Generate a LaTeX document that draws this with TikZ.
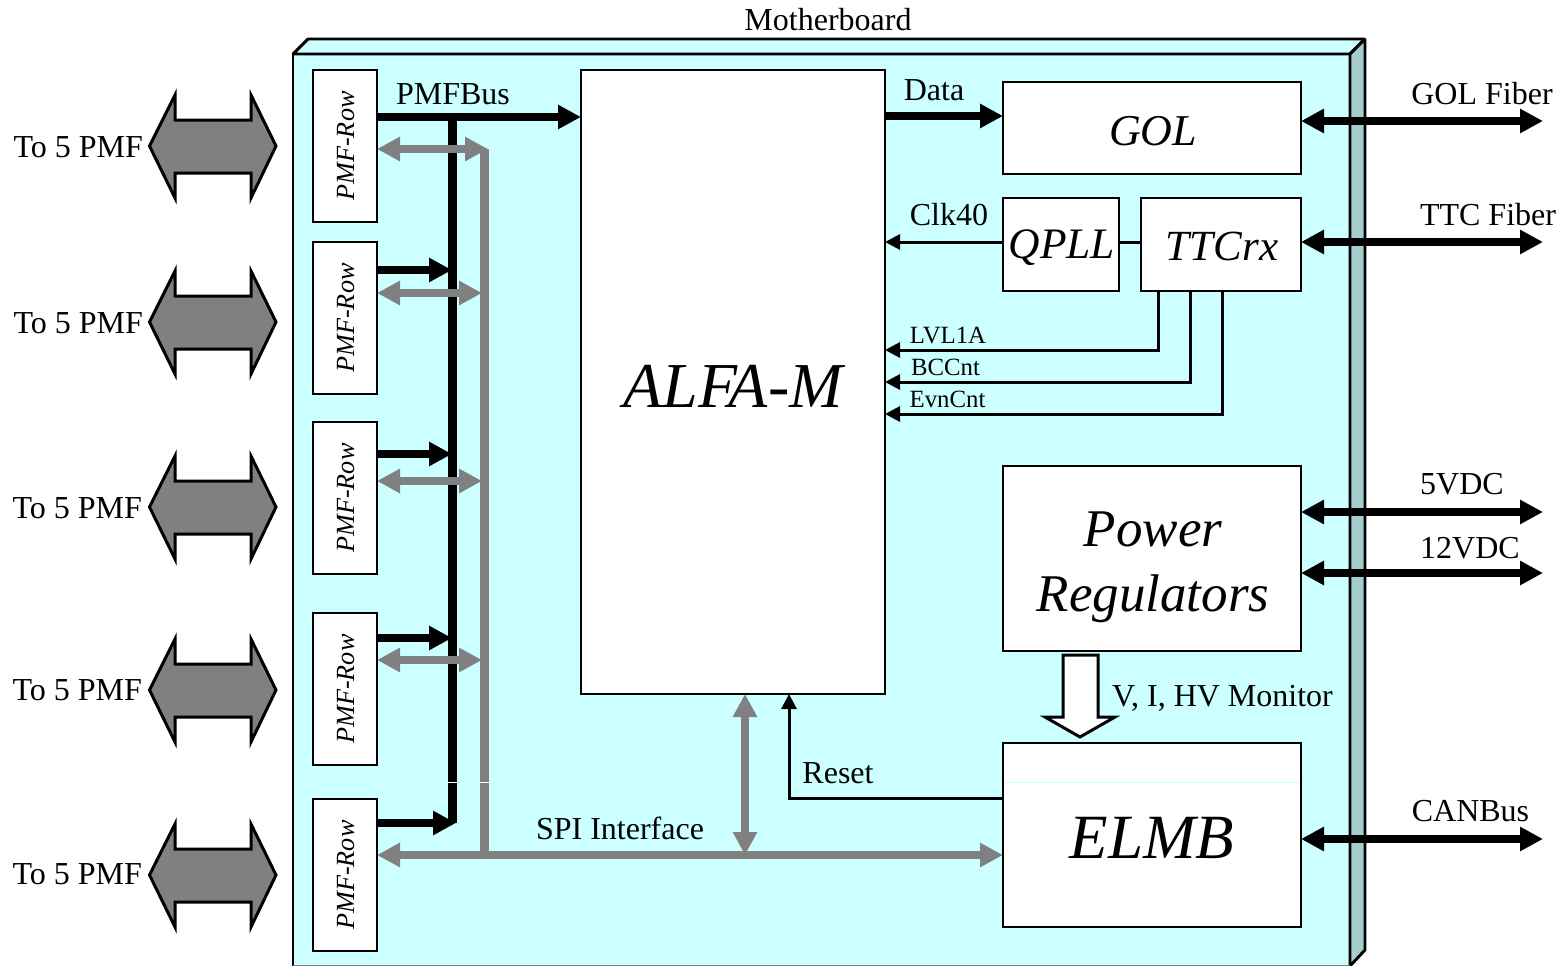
\documentclass[tikz,border=0pt]{standalone}
\usepackage{fontspec}
\usepackage{graphicx}
\setmainfont{Liberation Serif}
\usetikzlibrary{arrows.meta}
\definecolor{boardfill}{HTML}{CCFFFF}
\definecolor{sidefill}{HTML}{A5CDCD}
\definecolor{busgray}{HTML}{808080}
\newcommand{\fsz}[2]{\fontsize{#1}{#2}\selectfont}
\newcommand{\bigdbl}[4]{%
  \node[biglab] (#1t) at (#4,#3) {To 5 PMF};
  \draw[bigarrow] (149.5,#2) -- (175,#2-51) -- (175,#2-26) -- (251,#2-26) -- (251,#2-51) -- (276,#2)
    -- (251,#2+52) -- (251,#2+27) -- (175,#2+27) -- (175,#2+52) -- cycle;
}
\newcommand{\rowtxt}{\hspace*{1.5pt}\raisebox{-1pt}{\rotatebox{90}{\fsz{26.2}{30}\itshape PMF-Row}}}
\tikzset{
  x=1pt,y=-1pt,
  frame/.style={draw=black,line width=2.9pt,line join=bevel},
  boxn/.style={draw=black,fill=white,line width=2.9pt,inner sep=0pt,outer sep=0pt,align=center},
  rowbox/.style={boxn,minimum width=64pt,minimum height=152pt},
  lab/.style={font=\fsz{32}{36},anchor=base,inner sep=0pt,outer sep=0pt},
  biglab/.style={font=\fsz{32}{36},anchor=base east,inner sep=0pt,outer sep=0pt},
  smalllab/.style={font=\fsz{24.8}{28},anchor=base,inner sep=0pt,outer sep=0pt},
  bigarrow/.style={draw=black,fill=busgray,line width=3pt,line join=miter,miter limit=10},
  hollow/.style={draw=black,fill=white,line width=3pt,line join=miter,miter limit=10},
  blackbus/.style={draw=black,line width=8pt,-{Triangle[length=23pt,width=23pt]}},
  blackdbl/.style={draw=black,line width=8pt,{Triangle[length=23pt,width=23pt]}-{Triangle[length=23pt,width=23pt]}},
  graydbl/.style={draw=busgray,line width=8pt,{Triangle[length=23pt,width=23pt,fill=busgray]}-{Triangle[length=23pt,width=23pt,fill=busgray]}},
  railb/.style={draw=black,line width=9pt},
  railg/.style={draw=busgray,line width=9pt},
  sig/.style={draw=black,line width=3pt,-{Triangle[length=15pt,width=15pt]}},
  wirep/.style={draw=black,line width=3pt},
}
\begin{document}
\begin{tikzpicture}
\useasboundingbox (0,0) rectangle (1561,966);
% board
\fill[boardfill] (293,54) rectangle (1350,966);
\draw[frame,fill=boardfill] (293,54) -- (308,39) -- (1365,39) -- (1350,54) -- cycle;
\draw[frame,fill=sidefill] (1350,54) -- (1365,39) -- (1365,950) -- (1350,966) -- cycle;
\draw[frame] (293,966) -- (293,54) -- (1350,54);
\draw[draw=busgray,line width=1.5pt] (293,965.5) -- (1350,965.5);
\node[lab] (mb) at (828,31) {Motherboard};
% external big arrows
\bigdbl{a}{146}{157}{143}
\bigdbl{b}{322}{333}{143}
\bigdbl{c}{507}{518}{142}
\bigdbl{d}{690}{700}{142}
\bigdbl{e}{875}{884}{142}
% boxes
\node[rowbox] (r1) at (345,146) {\rowtxt};
\node[rowbox] (r2) at (345,318) {\rowtxt};
\node[rowbox] (r3) at (345,498) {\rowtxt};
\node[rowbox] (r4) at (345,689) {\rowtxt};
\node[rowbox] (r5) at (345,875) {\rowtxt};
\node[boxn,minimum width=304pt,minimum height=624pt] (alfa) at (733,382) {};
\node[font=\fsz{64}{70}\itshape,inner sep=0pt] (alfat) at (733,386) {ALFA-M};
\node[boxn,minimum width=298pt,minimum height=92pt] (gol) at (1152,128) {};
\node[font=\fsz{44}{48}\itshape,inner sep=0pt] (golt) at (1153,131) {GOL};
\node[boxn,minimum width=116pt,minimum height=93pt] (qpll) at (1061,244.5) {};
\node[font=\fsz{43.5}{48}\itshape,inner sep=0pt] (qpllt) at (1062,248) {QPLL};
\node[boxn,minimum width=160pt,minimum height=93pt] (ttc) at (1221,244.5) {};
\node[font=\fsz{43}{48}\itshape,inner sep=0pt] (ttct) at (1222,246) {TTCrx};
\node[boxn,minimum width=298pt,minimum height=185pt] (pow) at (1152,558.5) {};
\node[font=\fsz{53}{65}\itshape,align=center,inner sep=0pt] (powt) at (1153,567) {Power\\Regulators};
\node[boxn,minimum width=298pt,minimum height=184pt] (elmb) at (1152,835) {};
\node[font=\fsz{63}{70}\itshape,inner sep=0pt] (elmbt) at (1152,838) {ELMB};
% bus coordinates
\coordinate (bk) at (452,0);
\coordinate (gr) at (484,0);
\coordinate (bktip) at (452,0);
\coordinate (grtip) at (482,0);
% black rails and arrows
\draw[railb] (bk |- 0,117) -- (bk |- 0,823);
\draw[blackbus] (r1.east |- 0,117) -- (alfa.west |- 0,117);
\draw[blackbus] (r2.east |- 0,270) -- (bktip |- 0,270);
\draw[blackbus] (r3.east |- 0,454) -- (bktip |- 0,454);
\draw[blackbus] (r4.east |- 0,638) -- (bktip |- 0,638);
\draw[blackbus] (r5.east |- 0,823) -- (456,823);
% grey rails and arrows
\draw[railg] (gr |- 0,149) -- (gr |- 0,855);
\draw[graydbl] (r1.east |- 0,149) -- (488,149);
\draw[graydbl] (r2.east |- 0,293) -- (grtip |- 0,293);
\draw[graydbl] (r3.east |- 0,481) -- (grtip |- 0,481);
\draw[graydbl] (r4.east |- 0,660) -- (grtip |- 0,660);
\draw[graydbl] (r5.east |- 0,855) -- (elmb.west |- 0,855);
\draw[graydbl] (alfa.south -| 745,0) -- (745,855);
% thin seam across the rails and ELMB
\draw[white,line width=1pt] (447,782) -- (457,782);
\draw[white,line width=1pt] (479,782) -- (489,782);
\draw[boardfill,line width=1pt] (elmb.west |- 0,782) -- (elmb.east |- 0,782);
\draw[draw=black,line width=2.9pt] (elmb.north west) rectangle (elmb.south east);
% right-hand signals
\draw[blackbus] (alfa.east |- 0,116) -- (gol.west |- 0,116);
\draw[sig] (qpll.west |- 0,242) -- (alfa.east |- 0,242);
\draw[wirep] (qpll.east |- 0,242) -- (ttc.west |- 0,242);
\draw[sig] (1158,291) -- (1158,350) -- (alfa.east |- 0,350);
\draw[sig] (1190,291) -- (1190,382) -- (alfa.east |- 0,382);
\draw[sig] (1222,291) -- (1222,414) -- (alfa.east |- 0,414);
\draw[sig] (elmb.west |- 0,798) -- (789,798) -- (alfa.south -| 789,0);
\draw[hollow] (1063,655) -- (1098,655) -- (1098,717) -- (1115,717) -- (1080,737) -- (1045,717) -- (1063,717) -- cycle;
% external connectors
\coordinate (xe) at (1543,0);
\draw[blackdbl] (gol.east |- 0,121) -- (xe |- 0,121);
\draw[blackdbl] (ttc.east |- 0,242) -- (xe |- 0,242);
\draw[blackdbl] (pow.east |- 0,512) -- (xe |- 0,512);
\draw[blackdbl] (pow.east |- 0,573) -- (xe |- 0,573);
\draw[blackdbl] (elmb.east |- 0,839) -- (xe |- 0,839);
% labels
\node[lab] (l1) at (453,104) {PMFBus};
\node[lab] (l2) at (934,100) {Data};
\node[lab] (l3) at (949,225) {Clk40};
\node[smalllab] (l4) at (948,343) {LVL1A};
\node[smalllab] (l5) at (945.5,375) {BCCnt};
\node[smalllab] (l6) at (947.5,407) {EvnCnt};
\node[lab] (l7) at (620,839) {SPI Interface};
\node[lab] (l8) at (838,783) {Reset};
\node[lab] (l9) at (1222.5,706) {V, I, HV Monitor};
\node[lab] (l10) at (1482,104) {GOL Fiber};
\node[lab] (l11) at (1488,225) {TTC Fiber};
\node[lab] (l12) at (1462,494) {5VDC};
\node[lab] (l13) at (1470,558) {12VDC};
\node[lab] (l14) at (1470.5,821) {CANBus};
\end{tikzpicture}
\end{document}
